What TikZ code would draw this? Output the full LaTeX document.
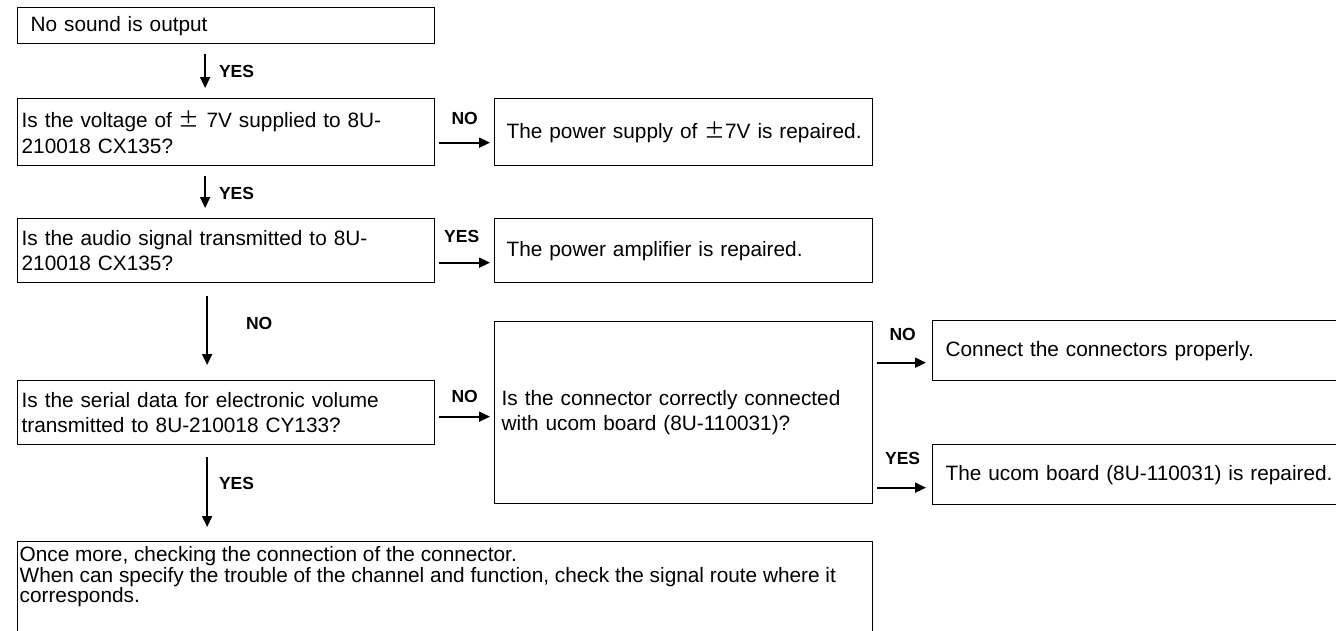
\documentclass[tikz,border=0pt]{standalone}
\usepackage{fontspec}
\setmainfont{Liberation Sans}
\newfontfamily\cjk{Noto Sans CJK SC}
\usetikzlibrary{arrows.meta,positioning}

\newcommand{\plusminus}{{\cjk ±}}

\begin{document}
\begin{tikzpicture}[
    x=1pt, y=-1pt,
    >={Triangle[length=11pt,width=10pt]},
    font=\fontsize{20.8}{25.2}\selectfont,
    box/.style={draw, line width=1.3pt, anchor=north west, align=left, inner xsep=4pt, inner ysep=0pt},
    flow/.style={->, line width=1.8pt},
    hflow/.style={flow, shorten <=4pt, shorten >=4pt},
    tag/.style={font=\fontsize{17.5}{20}\selectfont\bfseries, inner sep=0pt}
]
    \path[use as bounding box, clip] (0,0) rectangle (1336,630);

    % main column
    \node[box, inner xsep=13pt, text width=391pt, minimum height=36pt] (start) at (17,7) {No sound is output};
    \node[box, text width=409pt, minimum height=67pt] (volt) at (17,98) {Is the voltage of \plusminus{} 7V supplied to 8U-\\210018 CX135?};
    \node[box, text width=409pt, minimum height=64pt] (audio) at (17,218) {Is the audio signal transmitted to 8U-\\210018 CX135?};
    \node[box, text width=409pt, minimum height=64pt] (serial) at (17,380) {Is the serial data for electronic volume\\transmitted to 8U-210018 CY133?};
    \node[box, inner xsep=2pt, inner ysep=5pt, font=\fontsize{20.8}{17.8}\selectfont] (check) at (17,541)
        {\parbox[t][94pt][t]{851pt}{\raggedright Once more, checking the connection of the connector.\\
        When can specify the trouble of the channel and function, check the signal route where it\\
        corresponds.}};

    % results
    \node[box, inner xsep=12pt, text width=354pt, minimum height=67pt] (psu) at (494,98) {\mbox{The power supply of \plusminus7V is repaired.}};
    \node[box, inner xsep=12pt, text width=354pt, minimum height=64pt] (amp) at (494,218) {The power amplifier is repaired.};
    \node[box, inner xsep=7pt, text width=364pt, minimum height=182pt] (conn) at (494,321) {Is the connector correctly connected\\with ucom board (8U-110031)?};
    \node[box, inner xsep=13pt, text width=394pt, minimum height=60pt] (plug) at (932,320) {Connect the connectors properly.};
    \node[box, inner xsep=13pt, text width=394pt, minimum height=60pt] (ucom) at (932,444) {The ucom board (8U-110031) is repaired.};

    % downward
    \draw[flow, shorten <=10pt, shorten >=10pt] ([xshift=-21pt]start.south) -- ([xshift=-21pt]volt.north) node[tag, midway, right=13pt] {YES};
    \draw[flow, shorten <=10pt, shorten >=10pt] ([xshift=-21pt]volt.south) -- ([xshift=-21pt]audio.north) node[tag, pos=0.53, right=13pt] {YES};
    \draw[flow, shorten <=13pt, shorten >=15pt] ([xshift=-19pt]audio.south) -- ([xshift=-19pt]serial.north) node[tag, pos=0.42, right=38pt] {NO};
    \draw[flow, shorten <=12pt, shorten >=14pt] ([xshift=-19pt]serial.south) -- ([xshift=-19pt]serial.south |- check.north) node[tag, pos=0.4, right=11pt] {YES};

    % sideways
    \draw[hflow] ([yshift=-10.5pt]volt.east) -- ([yshift=-10.5pt]psu.west) node[tag, midway, above=17pt] {NO};
    \draw[hflow] ([yshift=-12pt]audio.east) -- ([yshift=-12pt]amp.west) node[tag, pos=0.45, above=19pt] {YES};
    \draw[hflow] ([yshift=-4pt]serial.east) -- ([yshift=-4pt]conn.west) node[tag, midway, above=13pt] {NO};
    \draw[hflow, shorten >=6pt] ([yshift=-12pt]plug.west -| conn.east) -- ([yshift=-12pt]plug.west) node[tag, midway, above=21pt] {NO};
    \draw[hflow, shorten >=6pt] ([yshift=-13pt]ucom.west -| conn.east) -- ([yshift=-13pt]ucom.west) node[tag, midway, above=22pt] {YES};
\end{tikzpicture}
\end{document}
